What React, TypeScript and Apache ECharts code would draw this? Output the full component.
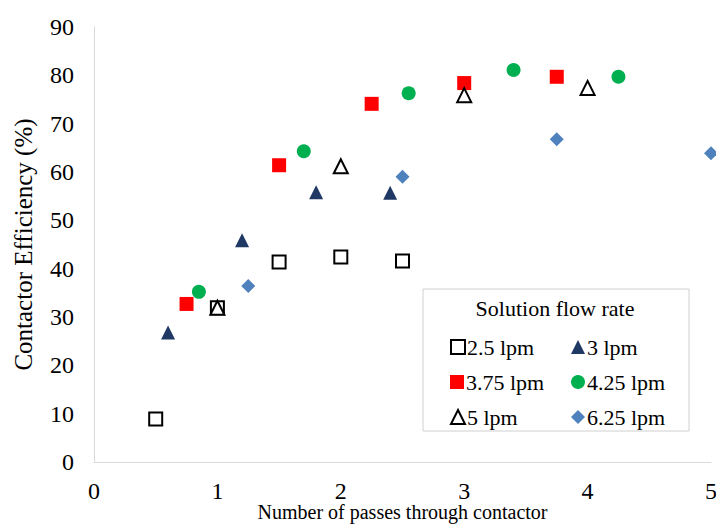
import React, { useEffect, useRef } from "react";
import * as echarts from "echarts";

const seriesNames = ["2.5 lpm", "3 lpm", "3.75 lpm", "4.25 lpm", "5 lpm", "6.25 lpm"];
const flow25 = [[0.5, 8.9], [1.0, 31.9], [1.5, 41.4], [2.0, 42.4], [2.5, 41.6]];
const flow3 = [[0.6, 26.8], [1.2, 45.9], [1.8, 55.8], [2.4, 55.7]];
const flow375 = [[0.75, 32.7], [1.5, 61.4], [2.25, 74.1], [3.0, 78.4], [3.75, 79.7]];
const flow425 = [[0.85, 35.2], [1.7, 64.3], [2.55, 76.3], [3.4, 81.1], [4.25, 79.7]];
const flow5 = [[1.0, 31.9], [2.0, 61.2], [3.0, 75.9], [4.0, 77.4]];
const flow625 = [[1.25, 36.4], [2.5, 59.0], [3.75, 66.8], [5.0, 63.9]];
const xName = "Number of passes through contactor";
const yName = "Contactor Efficiency (%)";
const legendTitle = "Solution flow rate";

const FONT = "Liberation Serif";

export default function App() {
  const ref = useRef<HTMLDivElement>(null);
  useEffect(() => {
    if (!ref.current) return;
    const chart = echarts.init(ref.current, undefined, { renderer: "svg" });
    const styles = [
      { symbol: "rect", size: 13, itemStyle: { color: "#ffffff", borderColor: "#000000", borderWidth: 2, opacity: 1 } },
      { symbol: "triangle", size: 14, itemStyle: { color: "#1F3864", opacity: 1 } },
      { symbol: "rect", size: 14, itemStyle: { color: "#FF0000", opacity: 1 } },
      { symbol: "circle", size: 14, itemStyle: { color: "#00B050", opacity: 1 } },
      { symbol: "triangle", size: 14, itemStyle: { color: "#ffffff", borderColor: "#000000", borderWidth: 2, opacity: 1 } },
      { symbol: "diamond", size: 14, itemStyle: { color: "#4F81BD", opacity: 1 } },
    ];
    const datas = [flow25, flow3, flow375, flow425, flow5, flow625];
    const legendPos = [
      [450, 336], [571, 336],
      [450, 371], [571, 371],
      [450, 406], [571, 406],
    ];
    chart.setOption({
      animation: false,
      backgroundColor: "#ffffff",
      textStyle: { fontFamily: FONT },
      grid: { left: 94, right: 5, top: 27, bottom: 62, containLabel: false, outerBoundsMode: "none" },
      xAxis: {
        type: "value",
        min: 0,
        max: 5,
        interval: 1,
        name: xName,
        nameLocation: "middle",
        nameGap: 40,
        nameMoveOverlap: false,
        nameTextStyle: { fontFamily: FONT, fontSize: 20, color: "#000" },
        axisLine: { show: true, lineStyle: { color: "#d9d9d9", width: 1 } },
        axisTick: { show: false },
        splitLine: { show: false },
        axisLabel: { fontFamily: FONT, fontSize: 24, color: "#000", margin: 17 },
      },
      yAxis: {
        type: "value",
        min: 0,
        max: 90,
        interval: 10,
        name: yName,
        nameLocation: "middle",
        nameGap: 58,
        nameMoveOverlap: false,
        nameTextStyle: { fontFamily: FONT, fontSize: 25, color: "#000" },
        axisLine: { show: true, lineStyle: { color: "#d9d9d9", width: 1 } },
        axisTick: { show: false },
        splitLine: { show: false },
        axisLabel: { fontFamily: FONT, fontSize: 24, color: "#000", margin: 20 },
      },
      legend: seriesNames.map((n, i) => ({
        data: [n],
        left: legendPos[i][0],
        top: legendPos[i][1],
        itemWidth: 14,
        itemHeight: 14,
        itemGap: 5,
        padding: 0,
        z: 5,
        textStyle: { fontFamily: FONT, fontSize: 22, color: "#000", padding: [0, 0, 0, -3] },
      })),
      graphic: [
        {
          type: "rect",
          z: 3,
          shape: { x: 423, y: 289, width: 266, height: 142 },
          style: { fill: "#ffffff", stroke: "#d0d0d0", lineWidth: 1 },
        },
        {
          type: "text",
          z: 4,
          x: 555,
          y: 308,
          style: {
            text: legendTitle,
            fontFamily: FONT,
            fontSize: 22,
            fill: "#000",
            align: "center",
            verticalAlign: "middle",
          },
        },
      ],
      series: seriesNames.map((n, i) => ({
        name: n,
        type: "scatter",
        clip: false,
        data: datas[i],
        symbol: styles[i].symbol,
        symbolSize: styles[i].size,
        itemStyle: styles[i].itemStyle,
        emphasis: { disabled: true },
      })),
    });
    return () => chart.dispose();
  }, []);
  return <div ref={ref} style={{ position: "fixed", left: 0, top: 0, width: 716, height: 524 }} />;
}
